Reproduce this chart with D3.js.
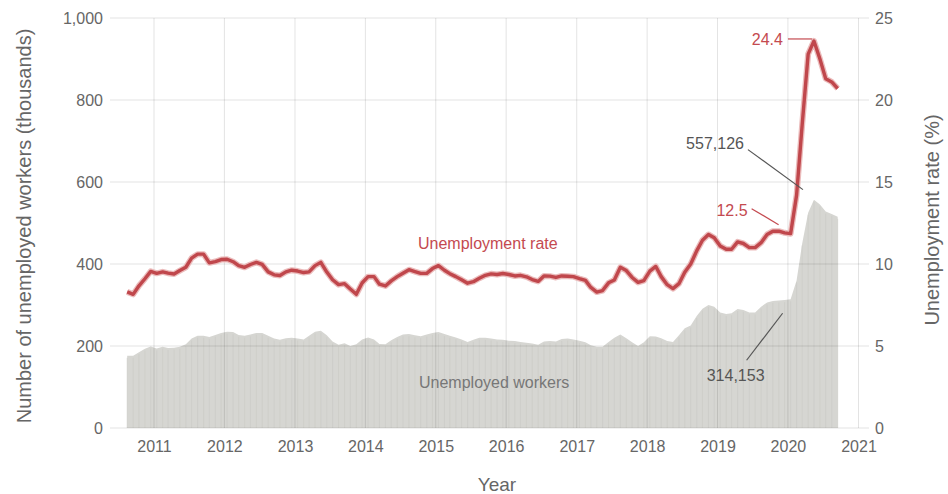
<!DOCTYPE html>
<html>
<head>
<meta charset="utf-8">
<script src="https://cdn.jsdelivr.net/npm/d3@7"></script>
<style>
  body { margin: 0; background: #fff; }
  svg { font-family: "Liberation Sans", Arial, sans-serif; }
</style>
</head>
<body>
<div id="app"></div>
<script>
const WIDTH = 948;
const HEIGHT = 494;

// monthly series, Aug 2010 .. Sep 2020
const START_YEAR = 2010;
const START_MONTH = 7; // August
const RATE = [
  8.3, 8.15, 8.67, 9.1, 9.55, 9.43, 9.52, 9.44, 9.39, 9.6, 9.8, 10.36,
  10.6, 10.6, 10.07, 10.15, 10.27, 10.29, 10.14, 9.9, 9.8, 9.97, 10.1, 9.98,
  9.52, 9.34, 9.3, 9.52, 9.62, 9.57, 9.48, 9.52, 9.9, 10.1, 9.51, 9.04,
  8.74, 8.8, 8.47, 8.15, 8.84, 9.23, 9.23, 8.77, 8.66, 8.97, 9.23, 9.44,
  9.65, 9.54, 9.43, 9.43, 9.72, 9.9, 9.62, 9.41, 9.23, 9.04, 8.83, 8.92,
  9.13, 9.31, 9.4, 9.36, 9.42, 9.36, 9.27, 9.31, 9.22, 9.05, 8.94, 9.27,
  9.26, 9.18, 9.27, 9.25, 9.23, 9.11, 9.0, 8.57, 8.29, 8.38, 8.85, 9.03,
  9.8, 9.6, 9.18, 8.88, 8.99, 9.57, 9.85, 9.23, 8.74, 8.5, 8.8, 9.5,
  10.0, 10.8, 11.45, 11.8, 11.6, 11.1, 10.9, 10.9, 11.35, 11.25, 11.0, 11.0,
  11.3, 11.8, 12.0, 12.0, 11.9, 11.85, 14.2, 18.5, 22.8, 23.6, 22.5, 21.3,
  21.1, 20.7
];
const UNEMPLOYED = [
  176, 176, 185, 193, 199, 194, 198, 195, 196, 198, 204, 218,
  225, 225, 222, 227, 232, 235, 234, 227, 225, 228, 232, 232,
  225, 218, 215, 219, 220, 218, 216, 225, 235, 237, 226, 211,
  203, 207, 200, 204, 216, 221, 216, 205, 204, 214, 222, 228,
  229, 226, 224, 228, 232, 234, 229, 225, 221, 216, 210, 215,
  220, 220, 218, 216, 215, 213, 212, 210, 208, 206, 203, 211,
  212, 211, 217, 218, 216, 213, 209, 202, 198, 198, 210, 220,
  228, 219, 209, 200, 209, 224, 223, 219, 212, 210, 226, 243,
  250, 273, 291, 300, 296, 282, 278, 280, 290, 288, 282, 282,
  296, 306, 310, 311, 312, 314, 360, 450, 525, 557, 545, 528,
  522, 515
];
const YEAR_TICKS = [2011, 2012, 2013, 2014, 2015, 2016, 2017, 2018, 2019, 2020, 2021];
const LEFT_TICKS = [0, 200, 400, 600, 800, 1000];
const RIGHT_TICKS = [0, 5, 10, 15, 20, 25];

const data = RATE.map((r, i) => ({
  date: new Date(START_YEAR, START_MONTH + i, 15),
  rate: r,
  workers: UNEMPLOYED[i]
}));

const RED = "#c0474c";
const GREY_TEXT = "#666";

const svg = d3.select("#app").append("svg")
  .attr("width", WIDTH)
  .attr("height", HEIGHT);

const x = d3.scaleTime()
  .domain([new Date(2011, 0, 1), new Date(2021, 0, 1)])
  .range([154, 858.5]);
const yL = d3.scaleLinear().domain([0, 1000]).range([428, 18]);
const yR = d3.scaleLinear().domain([0, 25]).range([428, 18]);

// unemployed workers area
const area = d3.area()
  .x(d => x(d.date))
  .y0(yL(0))
  .y1(d => yL(d.workers));
svg.append("path")
  .datum(data)
  .attr("d", area)
  .attr("fill", "#d6d6d2");

// faint monthly stripes inside the area
svg.append("g")
  .selectAll("line")
  .data(data)
  .join("line")
  .attr("x1", d => x(d.date))
  .attr("x2", d => x(d.date))
  .attr("y1", yL(0))
  .attr("y2", d => yL(d.workers) + 2)
  .attr("stroke", "#c9c9c5")
  .attr("stroke-width", 0.6);

// grid
svg.append("g")
  .selectAll("line")
  .data(LEFT_TICKS)
  .join("line")
  .attr("x1", 110)
  .attr("x2", 869)
  .attr("y1", d => yL(d))
  .attr("y2", d => yL(d))
  .attr("stroke", "rgba(0,0,0,0.11)");
svg.append("g")
  .selectAll("line")
  .data(YEAR_TICKS)
  .join("line")
  .attr("x1", d => x(new Date(d, 0, 1)))
  .attr("x2", d => x(new Date(d, 0, 1)))
  .attr("y1", yL(1000))
  .attr("y2", yL(0))
  .attr("stroke", "rgba(0,0,0,0.11)");

// axes (labels only)
const styleAxis = g => {
  g.select(".domain").remove();
  g.selectAll("text")
    .attr("fill", GREY_TEXT)
    .style("font-size", "16px")
    .style("font-family", "Liberation Sans, Arial, sans-serif");
};
svg.append("g")
  .attr("transform", "translate(110,0)")
  .call(d3.axisLeft(yL).tickValues(LEFT_TICKS).tickFormat(d3.format(",")).tickSize(0).tickPadding(7))
  .call(styleAxis);
svg.append("g")
  .attr("transform", "translate(869,0)")
  .call(d3.axisRight(yR).tickValues(RIGHT_TICKS).tickSize(0).tickPadding(6))
  .call(styleAxis);
svg.append("g")
  .attr("transform", `translate(0,${yL(0)})`)
  .call(d3.axisBottom(x)
    .tickValues(YEAR_TICKS.map(y => new Date(y, 0, 1)))
    .tickFormat(d3.timeFormat("%Y"))
    .tickSize(0).tickPadding(13))
  .call(styleAxis);

// rate line
const line = d3.line()
  .x(d => x(d.date))
  .y(d => yR(d.rate));
svg.append("path")
  .datum(data)
  .attr("d", line)
  .attr("fill", "none")
  .attr("stroke", "#ebbcbc")
  .attr("stroke-width", 6)
  .attr("stroke-linejoin", "round");
svg.append("path")
  .datum(data)
  .attr("d", line)
  .attr("fill", "none")
  .attr("stroke", RED)
  .attr("stroke-width", 3.4)
  .attr("stroke-linejoin", "round");

// series labels
svg.append("text")
  .attr("x", 418).attr("y", 249)
  .attr("fill", "#c44a50")
  .style("font-size", "16px")
  .text("Unemployment rate");
svg.append("text")
  .attr("x", 419).attr("y", 388)
  .attr("fill", "#777")
  .style("font-size", "16px")
  .text("Unemployed workers");

// annotations, anchored to data points
const byMonth = (yy, mm) => data.find(d => d.date.getFullYear() === yy && d.date.getMonth() === mm);
const peak = byMonth(2020, 4);
const jan20 = byMonth(2020, 0);

const notes = [
  { text: "24.4", color: "#c44a50", px: x(peak.date), py: yR(peak.rate),
    from: [-26, -2], to: [-2, -2], tx: -31, ty: 4, anchor: "end" },
  { text: "12.5", color: "#c44a50", px: x(jan20.date), py: yR(jan20.rate),
    from: [-39, -25], to: [-12, -9], tx: -43, ty: -18, anchor: "end" },
  { text: "557,126", color: "#555", px: x(peak.date), py: yL(peak.workers),
    from: [-66, -50], to: [-11, -10], tx: -70, ty: -51, anchor: "end" },
  { text: "314,153", color: "#555", px: x(jan20.date), py: yL(jan20.workers),
    from: [-44, 61], to: [-8, 14], tx: -55, ty: 82, anchor: "middle" }
];
const noteG = svg.append("g").selectAll("g").data(notes).join("g");
noteG.append("line")
  .attr("x1", d => d.px + d.from[0])
  .attr("y1", d => d.py + d.from[1])
  .attr("x2", d => d.px + d.to[0])
  .attr("y2", d => d.py + d.to[1])
  .attr("stroke", d => d.color)
  .attr("stroke-width", 1.2);
noteG.append("text")
  .attr("x", d => d.px + d.tx)
  .attr("y", d => d.py + d.ty)
  .attr("text-anchor", d => d.anchor)
  .attr("fill", d => d.color)
  .style("font-size", "16px")
  .text(d => d.text);

// axis titles
svg.append("text")
  .attr("transform", "translate(31,226) rotate(-90)")
  .attr("text-anchor", "middle")
  .attr("fill", GREY_TEXT)
  .style("font-size", "20px")
  .text("Number of unemployed workers (thousands)");
svg.append("text")
  .attr("transform", "translate(939,220) rotate(-90)")
  .attr("text-anchor", "middle")
  .attr("fill", GREY_TEXT)
  .style("font-size", "20px")
  .text("Unemployment rate (%)");
svg.append("text")
  .attr("x", 497).attr("y", 491)
  .attr("text-anchor", "middle")
  .attr("fill", GREY_TEXT)
  .style("font-size", "19px")
  .text("Year");
</script>
</body>
</html>
